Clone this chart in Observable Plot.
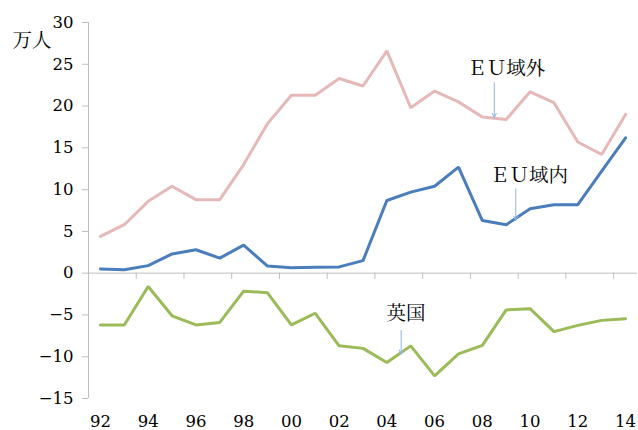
<!DOCTYPE html>
<html><head><meta charset="utf-8">
<script src="https://cdn.jsdelivr.net/npm/d3@7"></script>
<script src="https://cdn.jsdelivr.net/npm/@observablehq/plot@0.6"></script>
<style>html,body{margin:0;padding:0;background:#fff} svg{display:block}</style>
</head><body><div id="chart"></div>
<script>
const years = [1992,1993,1994,1995,1996,1997,1998,1999,2000,2001,2002,2003,2004,2005,2006,2007,2008,2009,2010,2011,2012,2013,2014];
const euOutside = [4.4,5.8,8.6,10.4,8.8,8.8,13.0,17.9,21.3,21.3,23.3,22.4,26.6,19.8,21.8,20.5,18.7,18.4,21.7,20.4,15.7,14.2,19.0];
const euInside  = [0.5,0.4,0.9,2.3,2.8,1.8,3.35,0.85,0.65,0.7,0.75,1.5,8.7,9.7,10.4,12.7,6.3,5.8,7.7,8.2,8.2,12.2,16.2];
const uk        = [-6.2,-6.2,-1.6,-5.1,-6.2,-5.9,-2.15,-2.35,-6.2,-4.8,-8.7,-9.0,-10.7,-8.7,-12.3,-9.65,-8.65,-4.4,-4.25,-7.0,-6.25,-5.65,-5.45];
const yTicks = [-15,-10,-5,0,5,10,15,20,25,30];
const xTickYears = [1992,1994,1996,1998,2000,2002,2004,2006,2008,2010,2012,2014];
const unitLabel = "万人";
const notes = [
  {label:"ＥＵ域外", x:2009.0, y:24.5, ax:2008.5, ay1:22.8, ay2:18.6},
  {label:"ＥＵ域内", x:2009.95, y:11.7, ax:2009.4, ay1:10.1, ay2:6.3},
  {label:"英国", x:2004.8, y:-4.9, ax:2004.6, ay1:-6.85, ay2:-9.7}
];

const series = [
  {name:"EU域外", values:euOutside, color:"#e6b9b8"},
  {name:"EU域内", values:euInside, color:"#4a7ebb"},
  {name:"英国", values:uk, color:"#9bbb59"}
];
const rows = series.flatMap(s => years.map((yr,i) => ({series:s.name, year:yr, value:s.values[i], color:s.color})));
const boundaries = xTickYears.slice(0,-1).map(y => y + 1.5);
const axisGray = "#bfbfbf";
const font = "'DejaVu Serif','Noto Serif CJK JP','Noto Sans CJK JP',serif";

const chart = Plot.plot({
  width:638, height:430,
  marginLeft:88, marginRight:1, marginTop:22, marginBottom:32,
  x:{domain:[1991.5,2014.5]},
  y:{domain:[-15,30]},
  style:{fontFamily:font, fontSize:"16px", color:"#000", background:"#fff", overflow:"visible"},
  marks:[
    Plot.ruleX([1991.5],{stroke:axisGray}),
    Plot.ruleY([0],{stroke:axisGray}),
    Plot.ruleX(boundaries,{x:d=>d, y1:0, y2:-0.75, stroke:axisGray}),
    Plot.axisY({ticks:yTicks, tickSize:6, tickPadding:9, stroke:axisGray, fill:"#000", label:null, fontSize:16.5}),
    Plot.axisX({ticks:xTickYears, tickSize:0, tickPadding:17, tickFormat:d=>String(d%100).padStart(2,"0"), label:null, fill:"#000", fontSize:16.5}),
    Plot.lineY(rows,{x:"year", y:"value", z:"series", stroke:"color", strokeWidth:3, strokeLinejoin:"miter"}),
    Plot.arrow(notes,{x1:"ax", x2:"ax", y1:"ay1", y2:"ay2", stroke:"#8eb4e3", strokeWidth:1, headLength:7, headAngle:50}),
    Plot.text(notes,{x:"x", y:"y", text:"label", fontSize:19.5, fill:"#000"}),
    Plot.text([unitLabel],{frameAnchor:"top-left", dx:-76, dy:11, textAnchor:"start", fontSize:19.5, fill:"#000"})
  ]
});
document.getElementById("chart").appendChild(chart);
</script>
</body></html>
